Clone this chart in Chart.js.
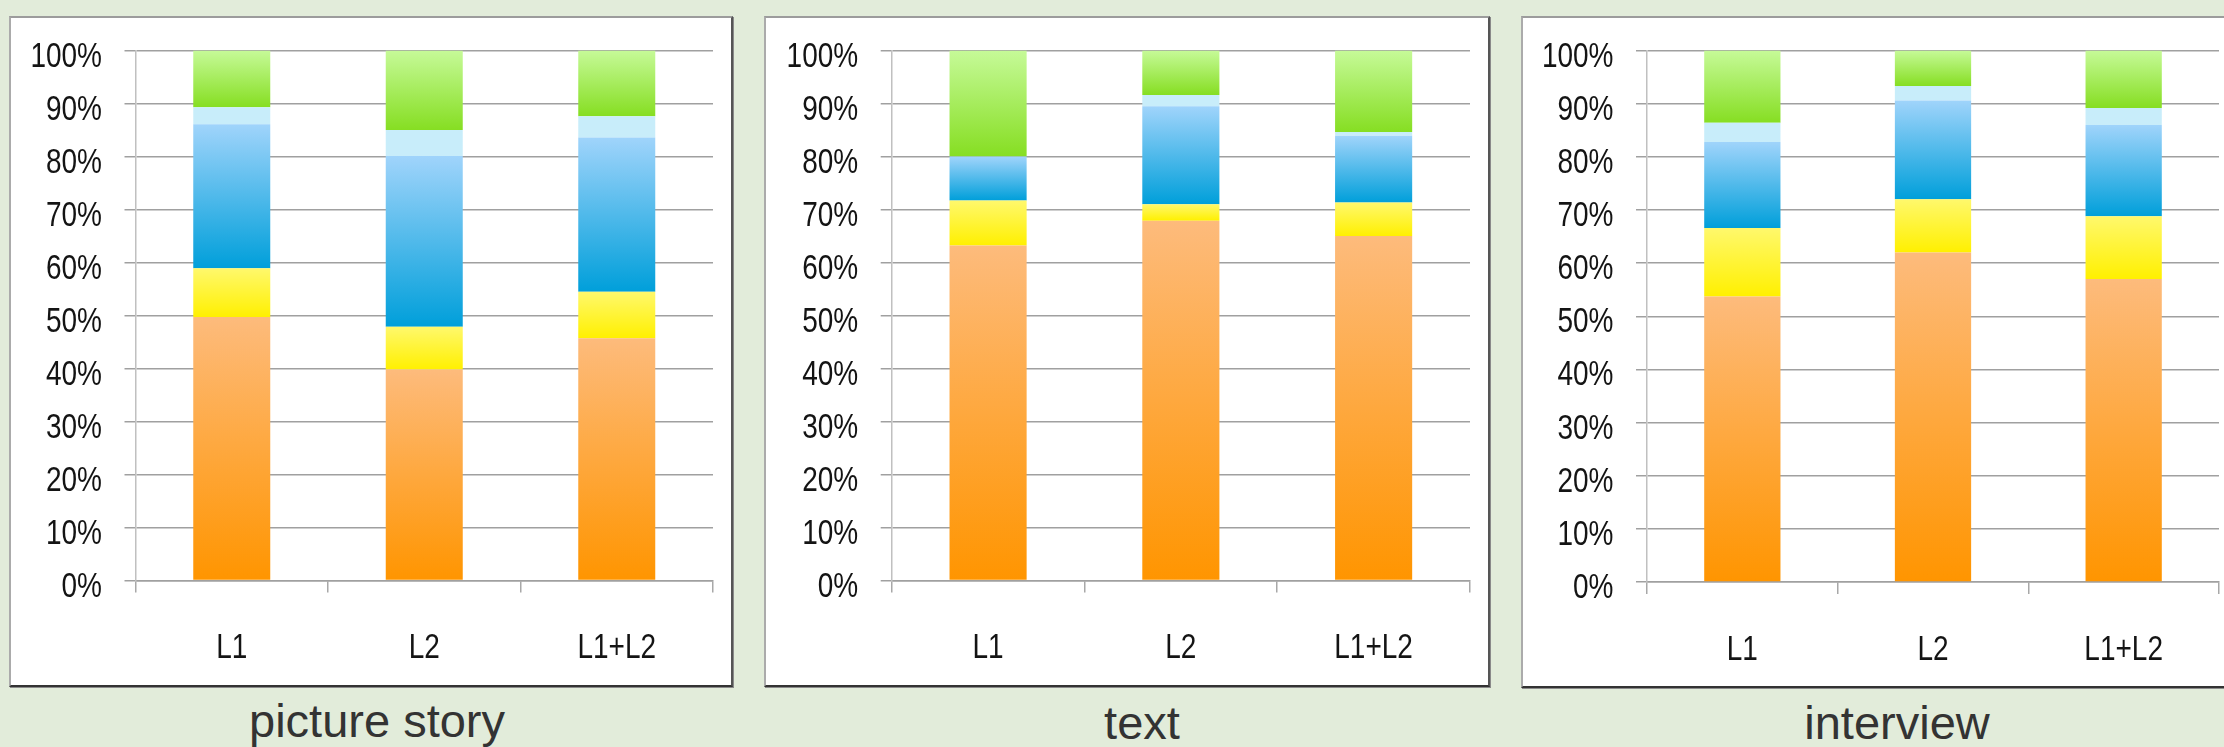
<!DOCTYPE html>
<html>
<head>
<meta charset="utf-8">
<script src="https://cdn.jsdelivr.net/npm/chart.js@4/dist/chart.umd.min.js"></script>
<style>
  html, body { margin: 0; padding: 0; }
  body { width: 2224px; height: 747px; background: #e2ecda; position: relative; overflow: hidden; }
  .box {
    position: absolute; background: #fff; box-sizing: border-box;
    border: 2px solid; border-color: #9c9c9c #555 #333 #ababab;
    box-shadow: 1px 1px 0 #8a8a8a;
  }
  .box canvas { position: absolute; left: 0; top: 0; }
  .title {
    position: absolute; width: 600px; text-align: center;
    font-family: "Liberation Sans", Arial, sans-serif; font-size: 47px; color: #333;
    line-height: 1;
  }
</style>
</head>
<body>
<div class="box" style="left:9px;top:16px;width:724px;height:671px"><canvas id="c1"></canvas></div>
<div class="box" style="left:764px;top:16px;width:726px;height:671px"><canvas id="c2"></canvas></div>
<div class="box" style="left:1521px;top:16px;width:724px;height:672px"><canvas id="c3"></canvas></div>
<div class="title" style="left:77px;top:697px">picture story</div>
<div class="title" style="left:842px;top:699px">text</div>
<div class="title" style="left:1597px;top:699px">interview</div>
<script>
const categories = ['L1', 'L2', 'L1+L2'];
const yTicks = [0, 10, 20, 30, 40, 50, 60, 70, 80, 90, 100];

// picture story (bottom to top)
const storyOrange = [49.7, 39.8, 45.7];
const storyYellow = [9.2, 8.1, 8.8];
const storyBlue = [27.2, 32.2, 29.1];
const storyLight = [3.2, 4.9, 4.0];
const storyGreen = [10.7, 15.0, 12.4];

// text
const textOrange = [63.2, 67.9, 65.0];
const textYellow = [8.5, 3.1, 6.3];
const textBlue = [8.3, 18.5, 12.6];
const textLight = [0, 2.1, 0.7];
const textGreen = [20.0, 8.4, 15.4];

// interview
const interOrange = [53.7, 62.0, 57.0];
const interYellow = [12.9, 10.0, 11.8];
const interBlue = [16.2, 18.6, 17.2];
const interLight = [3.6, 2.7, 3.2];
const interGreen = [13.6, 6.7, 10.8];

// [bottom colour, top colour] of each segment
const segColors = [
  ['#ff9500', '#fdbb7c'],
  ['#fff000', '#fff86c'],
  ['#009fda', '#a0d4fb'],
  ['#c8edfa', '#c8edfa'],
  ['#86de22', '#c6fa98'],
];

function segFill(c) {
  const chart = c.chart;
  const cols = segColors[c.datasetIndex];
  if (!chart.chartArea || c.type !== 'data') return cols[0];
  const sets = chart.data.datasets;
  let base = 0;
  for (let k = 0; k < c.datasetIndex; k++) base += sets[k].data[c.dataIndex];
  const top = base + sets[c.datasetIndex].data[c.dataIndex];
  const y = chart.scales.y;
  const y0 = y.getPixelForValue(base);
  const y1 = y.getPixelForValue(top);
  if (y0 - y1 < 1) return cols[0];
  const g = chart.ctx.createLinearGradient(0, y0, 0, y1);
  g.addColorStop(0, cols[0]);
  g.addColorStop(1, cols[1]);
  return g;
}

// tick labels drawn narrow (Calibri-like proportions)
const narrowLabels = {
  id: 'narrowLabels',
  afterDraw(chart) {
    const ctx = chart.ctx;
    const xs = chart.scales.x, ys = chart.scales.y;
    ctx.save();
    ctx.font = '35px "Liberation Sans", Arial, sans-serif';
    ctx.fillStyle = '#141414';
    ctx.textBaseline = 'alphabetic';
    ys.ticks.forEach((t) => {
      const py = ys.getPixelForValue(t.value);
      ctx.save();
      ctx.translate(chart.chartArea.left - 33.5, py + 16);
      ctx.scale(0.8, 1);
      ctx.textAlign = 'right';
      ctx.fillText(t.value + '%', 0, 0);
      ctx.restore();
    });
    xs.ticks.forEach((t, i) => {
      const px = xs.getPixelForTick(i);
      ctx.save();
      ctx.translate(px, chart.chartArea.bottom + 77.5);
      ctx.scale(0.8, 1);
      ctx.textAlign = 'center';
      ctx.fillText(xs.getLabelForValue(t.value), 0, 0);
      ctx.restore();
    });
    ctx.restore();
  },
};

function makeChart(id, w, h, geo, series) {
  const canvas = document.getElementById(id);
  canvas.width = w;
  canvas.height = h;
  return new Chart(canvas.getContext('2d'), {
    type: 'bar',
    data: {
      labels: categories,
      datasets: series.map((d) => ({
        data: d,
        backgroundColor: segFill,
        borderWidth: 0,
        barPercentage: 0.4,
        categoryPercentage: 1,
      })),
    },
    options: {
      responsive: false,
      animation: false,
      layout: { padding: { top: geo.top, right: geo.right, left: 0, bottom: 0 } },
      plugins: { legend: { display: false }, tooltip: { enabled: false } },
      scales: {
        x: {
          stacked: true,
          afterFit: (s) => { s.height = geo.xh; },
          grid: { offset: true, drawOnChartArea: false, color: '#a8a8a8', lineWidth: 1.5, tickLength: 12 },
          border: { color: '#a0a0a0', width: 1.5 },
          ticks: { display: false },
        },
        y: {
          stacked: true,
          min: 0,
          max: 100,
          afterFit: (s) => { s.width = geo.yw; },
          afterBuildTicks: (s) => { s.ticks = yTicks.map((v) => ({ value: v })); },
          grid: { color: '#a0a0a0', lineWidth: 1.5, tickLength: 11 },
          border: { color: '#c0c0c0', width: 1.5 },
          ticks: { display: false },
        },
      },
    },
    plugins: [narrowLabels],
  });
}

makeChart('c1', 720, 667, { top: 32.5, right: 18, yw: 124.5, xh: 104.5 },
  [storyOrange, storyYellow, storyBlue, storyLight, storyGreen]);
makeChart('c2', 722, 667, { top: 32.5, right: 18, yw: 125.7, xh: 104.5 },
  [textOrange, textYellow, textBlue, textLight, textGreen]);
makeChart('c3', 720, 668, { top: 32.5, right: 24, yw: 124, xh: 104 },
  [interOrange, interYellow, interBlue, interLight, interGreen]);
</script>
</body>
</html>
